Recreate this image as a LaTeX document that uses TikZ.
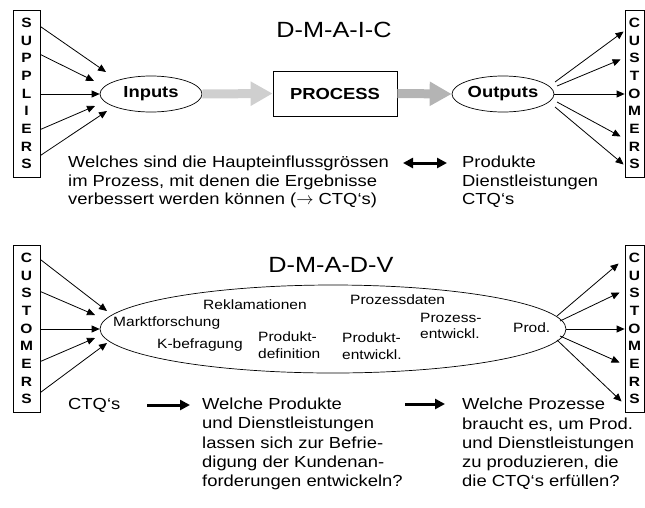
\documentclass[tikz,border=0pt]{standalone}
\usepackage{fontspec}
\setmainfont{Liberation Sans}[FakeStretch=1.15]
\usetikzlibrary{arrows.meta,positioning,calc,shapes.geometric}
\definecolor{arrowlight}{HTML}{CFCFCF}
\definecolor{arrowdark}{HTML}{B4B4B4}

\begin{document}
\begin{tikzpicture}[
  x=1pt,y=-1pt,
  every node/.style={align=center,inner sep=0pt},
  letterbox/.style={rectangle,draw,fill=white,line width=0.8pt,minimum height=167pt,font=\fontsize{13.5}{17.7}\selectfont\bfseries},
  oval/.style={ellipse,draw,line width=0.7pt,minimum width=102pt,minimum height=36pt,font=\fontsize{16}{18}\selectfont\bfseries},
  procbox/.style={rectangle,draw,line width=0.8pt,minimum width=124pt,minimum height=45pt,font=\fontsize{16}{18}\selectfont\bfseries},
  conn/.style={-{Triangle[length=8pt,width=7pt]},line width=0.8pt},
  fat/.style={line width=3pt,-{Triangle[length=10pt,width=10pt]}},
  wide/.style={line width=9pt,-{Triangle[length=22pt,width=23pt]}},
  title/.style={font=\fontsize{22}{24}\selectfont},
  body/.style={align=left,anchor=west,font=\fontsize{16}{18.5}\selectfont},
  topic/.style={align=left,anchor=west,font=\fontsize{13.5}{16.5}\selectfont}
]
\useasboundingbox (0,0) rectangle (645,507);

% D-M-A-I-C
\node[title] (dmaic) at (334,30) {D-M-A-I-C};
\node[letterbox,minimum width=27pt] (sup) at (26.5,93.5) {S\\U\\P\\P\\L\\I\\E\\R\\S};
\node[oval] (inp) at (151,94) {Inputs};
\node[procbox] (proc) at (335,93.5) {PROCESS};
\node[oval] (outp) at (503,94) {Outputs};
\node[letterbox,minimum width=19pt] (cus1) at (634.5,93.5) {C\\U\\S\\T\\O\\M\\E\\R\\S};
\draw[wide,arrowlight] (inp.east) -- (proc.west);
\draw[wide,arrowdark] (proc.east) -- (outp.west);
\draw[conn] ($(sup.east)+(0,-67)$) -- ($(inp.center)+(-45,-22)$);
\draw[conn] ($(sup.east)+(0,-39)$) -- ($(inp.center)+(-57,-13)$);
\draw[conn] (sup.east |- inp.west) -- (inp.west);
\draw[conn] ($(sup.east)+(0,36)$) -- ($(inp.center)+(-56,12)$);
\draw[conn] ($(sup.east)+(0,62)$) -- ($(inp.center)+(-44,17)$);
\draw[conn] ($(outp.center)+(52,-12)$) -- ($(cus1.west)+(-1,-62)$);
\draw[conn] ($(outp.center)+(54,-8)$) -- ($(cus1.west)+(-4,-34)$);
\draw[conn] (outp.east) -- (cus1.west |- outp.east);
\draw[conn] ($(outp.center)+(54,8)$) -- ($(cus1.west)+(-4,43)$);
\draw[conn] ($(outp.center)+(52,13)$) -- ($(cus1.west)+(-1,71)$);
\node[body] (haupt) at (68,182) {Welches sind die Haupteinflussgrössen\\im Prozess, mit denen die Ergebnisse\\verbessert werden können ($\rightarrow$ CTQ‘s)};
\node[body] (prod) at (462,182) {Produkte\\Dienstleistungen\\CTQ‘s};
\coordinate (d1) at (403,163);
\coordinate (d2) at (447,163);
\draw[fat,{Triangle[length=10pt,width=10pt]}-{Triangle[length=10pt,width=10pt]}] (d1) -- (d2);

% D-M-A-D-V
\node[title] (dmadv) at (331,265) {D-M-A-D-V};
\node[letterbox,minimum width=27pt] (cus2) at (26.5,328.5) {C\\U\\S\\T\\O\\M\\E\\R\\S};
\node[ellipse,draw,line width=0.7pt,minimum width=466pt,minimum height=88pt] (dev) at (333,329) {};
\node[letterbox,minimum width=19pt] (cus3) at (634.5,328.5) {C\\U\\S\\T\\O\\M\\E\\R\\S};
\node[topic] (rekl) at (203,305) {Reklamationen};
\node[topic] (pdat) at (350,300) {Prozessdaten};
\node[topic] (markt) at (113,323) {Marktforschung};
\node[topic] (kbef) at (157,345) {K-befragung};
\node[topic] (pdef) at (258,345) {Produkt-\\definition};
\node[topic] (pent) at (342,346) {Produkt-\\entwickl.};
\node[topic] (zent) at (420,326) {Prozess-\\entwickl.};
\node[topic] (prd) at (513,328) {Prod.};
\draw[conn] ($(cus2.east)+(0,-69)$) -- ($(dev.center)+(-226,-18)$);
\draw[conn] ($(cus2.east)+(0,-37)$) -- ($(dev.center)+(-238,-14)$);
\draw[conn] (cus2.east |- dev.west) -- (dev.west);
\draw[conn] ($(cus2.east)+(0,33)$) -- ($(dev.center)+(-238,9)$);
\draw[conn] ($(cus2.east)+(0,64)$) -- ($(dev.center)+(-226,14)$);
\draw[conn] ($(dev.center)+(224,-13)$) -- ($(cus3.west)+(-6,-65)$);
\draw[conn] ($(dev.center)+(227,-8)$) -- ($(cus3.west)+(-5,-36)$);
\draw[conn] (dev.east) -- (cus3.west |- dev.east);
\draw[conn] ($(dev.center)+(227,7)$) -- ($(cus3.west)+(-5,34)$);
\draw[conn] ($(dev.center)+(224,11)$) -- ($(cus3.west)+(-3,73)$);
\node[body] (ctq) at (68,405) {CTQ‘s};
\node[body,font=\fontsize{16}{19.2}\selectfont] (welche) at (202,444) {Welche Produkte\\und Dienstleistungen\\lassen sich zur Befrie-\\digung der Kundenan-\\forderungen entwickeln?};
\node[body,font=\fontsize{16}{19.2}\selectfont] (proz) at (462,444) {Welche Prozesse\\braucht es, um Prod.\\und Dienstleistungen\\zu produzieren, die\\die CTQ‘s erfüllen?};
\coordinate (a1) at (147,405);
\coordinate (a2) at (190,405);
\coordinate (a3) at (405,404);
\coordinate (a4) at (445,404);
\draw[fat] (a1) -- (a2);
\draw[fat] (a3) -- (a4);
\end{tikzpicture}
\end{document}
